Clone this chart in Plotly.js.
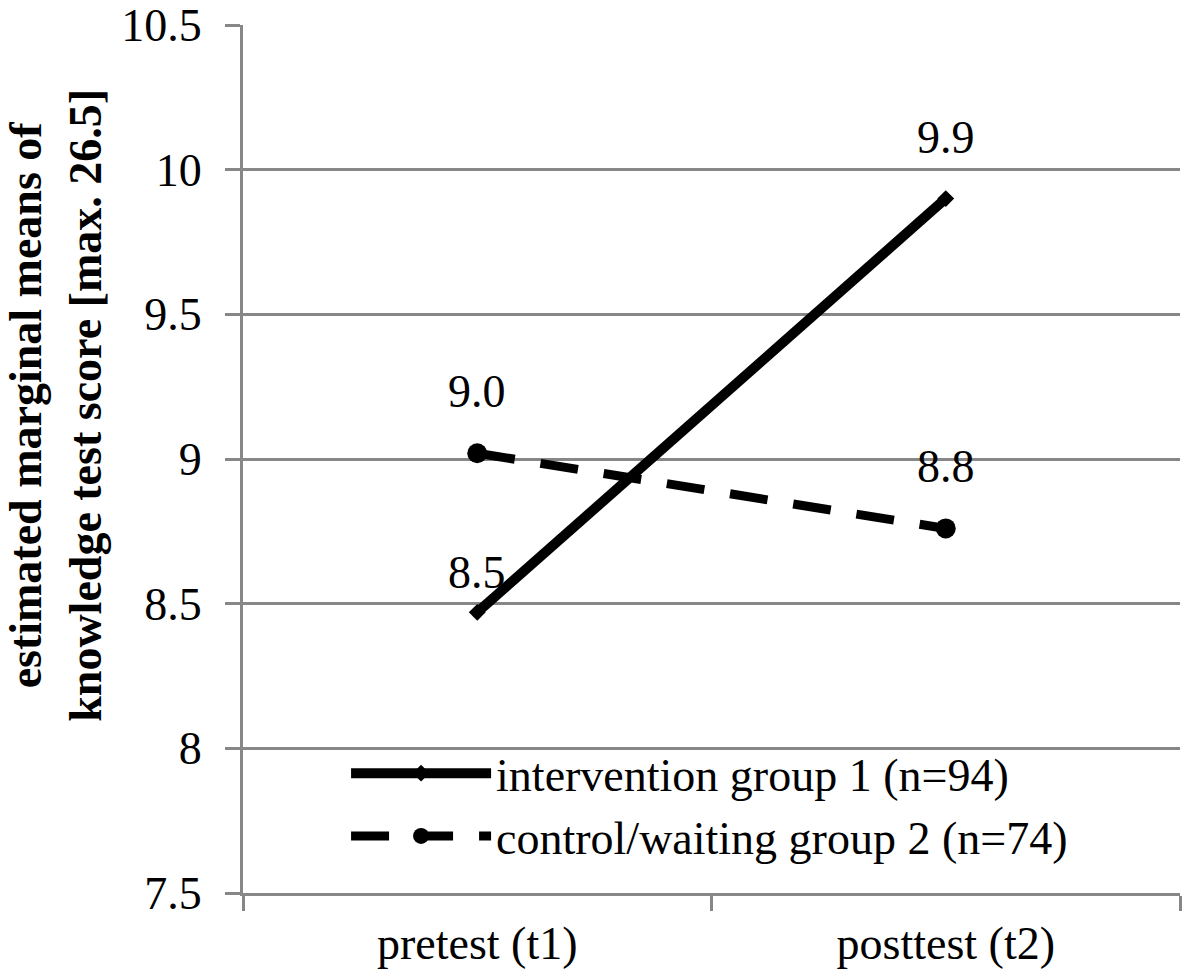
<!DOCTYPE html>
<html>
<head>
<meta charset="utf-8">
<script src="https://cdn.plot.ly/plotly-3.0.1.min.js"></script>
<style>html,body{margin:0;padding:0;background:#fff;}#chart{width:1184px;height:980px;}</style>
</head>
<body>
<div id="chart"></div>
<script>
const categories = ["pretest (t1)", "posttest (t2)"];
const interventionValues = [8.47, 9.90];
const interventionLabels = ["8.5", "9.9"];
const controlValues = [9.02, 8.76];
const controlLabels = ["9.0", "8.8"];
const seriesNames = ["intervention group 1 (n=94)", "control/waiting group 2 (n=74)"];
const yTitle = "estimated marginal means of<br>knowledge test score [max. 26.5]";

const FONT = "'Liberation Serif', 'Times New Roman', serif";
const GRID = "#878787";

const traces = [
  {
    x: categories, y: interventionValues, name: seriesNames[0],
    type: "scatter", mode: "lines+markers",
    line: {color: "#000", width: 10},
    marker: {symbol: "diamond", size: 13, color: "#000"},
    cliponaxis: false
  },
  {
    x: categories, y: controlValues, name: seriesNames[1],
    type: "scatter", mode: "lines+markers",
    line: {color: "#000", width: 9, dash: "38px,26px"},
    marker: {symbol: "circle", size: 20, color: "#000"},
    cliponaxis: false
  }
];

const annotations = [];
interventionValues.forEach((v, i) => annotations.push({
  x: categories[i], y: v, text: interventionLabels[i], showarrow: false,
  xref: "x", yref: "y", yanchor: "bottom", yshift: i === 0 ? 12 : 34,
  font: {family: FONT, size: 46, color: "#000"}
}));
controlValues.forEach((v, i) => annotations.push({
  x: categories[i], y: v, text: controlLabels[i], showarrow: false,
  xref: "x", yref: "y", yanchor: "bottom", yshift: 34,
  font: {family: FONT, size: 46, color: "#000"}
}));
annotations.push({
  xref: "paper", yref: "paper", x: -0.2, y: 0.562,
  text: "<b>" + yTitle + "</b>", textangle: -90, showarrow: false,
  xanchor: "center", yanchor: "middle",
  font: {family: FONT, size: 46, color: "#000"}
});

const layout = {
  width: 1184, height: 980,
  margin: {l: 243, r: 4, t: 25, b: 87},
  paper_bgcolor: "#fff", plot_bgcolor: "#fff",
  font: {family: FONT, size: 46, color: "#000"},
  showlegend: true,
  legend: {
    x: 0.11, y: 0.18, xanchor: "left", yanchor: "top",
    bgcolor: "rgba(255,255,255,0)", borderwidth: 0,
    itemwidth: 140,
    font: {family: FONT, size: 46, color: "#000"}
  },
  xaxis: {
    type: "category", range: [-0.5, 1.5],
    tickson: "boundaries", ticks: "outside", ticklen: 15, tickwidth: 3, tickcolor: GRID,
    showline: true, linecolor: GRID, linewidth: 3,
    showgrid: false, zeroline: false,
    tickfont: {family: FONT, size: 46, color: "#000"},
    ticklabelstandoff: 8
  },
  yaxis: {
    range: [7.5, 10.5], dtick: 0.5, tick0: 7.5,
    ticks: "outside", ticklen: 15, tickwidth: 3, tickcolor: GRID,
    showline: true, linecolor: GRID, linewidth: 3,
    showgrid: true, gridcolor: GRID, gridwidth: 3,
    zeroline: false,
    tickfont: {family: FONT, size: 46, color: "#000"},
    ticklabelstandoff: 14
  },
  annotations: annotations
};

Plotly.newPlot("chart", traces, layout, {displayModeBar: false, staticPlot: true});
</script>
</body>
</html>
